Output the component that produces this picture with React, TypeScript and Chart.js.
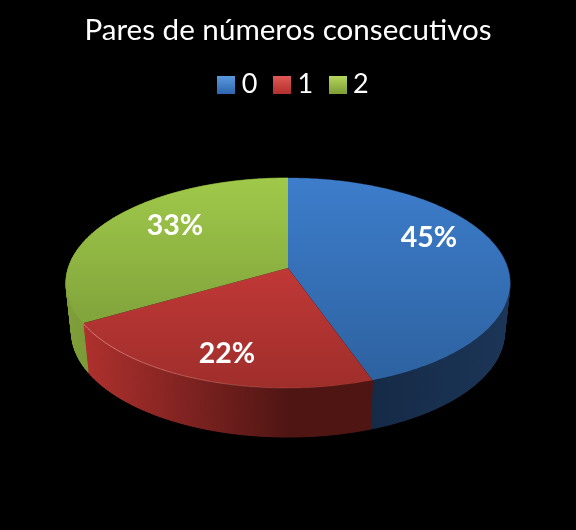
import React, { useEffect, useRef } from 'react';
import { Chart, registerables } from 'chart.js';

Chart.register(...registerables);

const chartTitle = 'Pares de números consecutivos';
const categories = ['0', '1', '2'];
const shares = [44.6, 22.1, 33.3];

// top face gradient [upper, lower] for each slice
const topColors = [
  ['#3d7dcb', '#2d619f'],
  ['#d8403f', '#9f2e2b'],
  ['#a0c94a', '#739335'],
];
// side wall gradient, left to right
const sideColors = [
  ['#11233b', '#1c3658'],
  ['#b0312e', '#4e1513'],
  ['#7f9f3a', '#64802c'],
];
const legendColors = [
  ['#5b9be0', '#2f68b0'],
  ['#e25b58', '#b2302d'],
  ['#b5d85f', '#7f9f35'],
];
const labelSpots = [
  [429, 238],
  [227, 354],
  [175, 226],
];

// pie projection: apex position, radii, perspective and wall depth
const apexX = 288;
const apexY = 268;
const radiusX = 219.7;
const radiusY = 102.9;
const tilt = 1 / 7;
const depth = 49;

const project = (angle: number, lift = 0, shrink = 1) => {
  const x = Math.cos(angle);
  const y = Math.sin(angle);
  const w = 1 - tilt * y;
  return [apexX + (radiusX * shrink * x) / w, apexY + (radiusY * y) / w + lift];
};

const rimPoints = (start: number, end: number, lift = 0, shrink = 1) => {
  const steps = Math.max(2, Math.ceil((end - start) * 60));
  const pts = [];
  for (let i = 0; i <= steps; i++) {
    pts.push(project(start + ((end - start) * i) / steps, lift, shrink));
  }
  return pts;
};

const pie3d = {
  id: 'pie3d',
  afterLayout(chart: Chart) {
    // the legend sits a little right of the title in the original
    const legend: any = chart.legend;
    legend.left += 8.5;
    legend.right += 8.5;
  },
  beforeDatasetsDraw(chart: Chart) {
    const ctx = chart.ctx;
    const arcs: any[] = chart.getDatasetMeta(0).data;

    // side walls first, the top faces paint over the hidden back part
    arcs.forEach((arc, i) => {
      const top = rimPoints(arc.startAngle, arc.endAngle);
      const bottom = rimPoints(arc.startAngle, arc.endAngle, depth, 0.975);
      const xs = top.map((p) => p[0]);
      const grad = ctx.createLinearGradient(Math.min(...xs), 0, Math.max(...xs), 0);
      grad.addColorStop(0, sideColors[i][0]);
      grad.addColorStop(i === 1 ? 0.72 : 1, sideColors[i][1]);
      grad.addColorStop(1, sideColors[i][1]);
      ctx.fillStyle = grad;
      ctx.strokeStyle = grad;
      ctx.lineWidth = 1;
      // wall is built from thin strips so the silhouette stays tangent to the rim
      for (let k = 0; k < top.length - 1; k++) {
        ctx.beginPath();
        ctx.moveTo(top[k][0], top[k][1]);
        ctx.lineTo(top[k + 1][0], top[k + 1][1]);
        ctx.lineTo(bottom[k + 1][0], bottom[k + 1][1]);
        ctx.lineTo(bottom[k][0], bottom[k][1]);
        ctx.closePath();
        ctx.fill();
        ctx.stroke();
      }
    });

    arcs.forEach((arc, i) => {
      const rim = rimPoints(arc.startAngle, arc.endAngle);
      const grad = ctx.createLinearGradient(0, apexY - 90, 0, apexY + 120);
      grad.addColorStop(0, topColors[i][0]);
      grad.addColorStop(1, topColors[i][1]);
      ctx.fillStyle = grad;
      ctx.beginPath();
      ctx.moveTo(apexX, apexY);
      rim.forEach((p) => ctx.lineTo(p[0], p[1]));
      ctx.closePath();
      ctx.fill();
      if (i === 1) {
        // soft light edge on the red front rim, fading to the right
        const edge = ctx.createLinearGradient(rim[rim.length - 1][0], 0, rim[0][0], 0);
        edge.addColorStop(0, 'rgba(255,190,180,0.55)');
        edge.addColorStop(0.7, 'rgba(255,190,180,0.12)');
        edge.addColorStop(1, 'rgba(255,190,180,0)');
        ctx.strokeStyle = edge;
        ctx.lineWidth = 1;
        ctx.beginPath();
        rim.forEach((p, k) => (k ? ctx.lineTo(p[0], p[1]) : ctx.moveTo(p[0], p[1])));
        ctx.stroke();
      }
    });

    ctx.fillStyle = '#ffffff';
    ctx.font = 'bold 28.5px Lato';
    ctx.textAlign = 'center';
    ctx.textBaseline = 'middle';
    shares.forEach((v, i) => {
      ctx.fillText(`${Math.round(v)}%`, labelSpots[i][0], labelSpots[i][1]);
    });
    return false;
  },
};

const legendSwatch = (colors: string[]) => {
  const c = document.createElement('canvas');
  c.width = 18;
  c.height = 18;
  const g = c.getContext('2d')!;
  const grad = g.createLinearGradient(0, 0, 0, 18);
  grad.addColorStop(0, colors[0]);
  grad.addColorStop(1, colors[1]);
  g.fillStyle = grad;
  g.fillRect(0, 0, 18, 18);
  return c;
};

const App: React.FC = () => {
  const chartRef = useRef<HTMLCanvasElement>(null);

  useEffect(() => {
    if (!chartRef.current) return;
    document.body.style.margin = '0';
    document.body.style.background = '#000';

    const swatches = legendColors.map(legendSwatch);
    const chart = new Chart(chartRef.current, {
      type: 'pie',
      data: {
        labels: categories,
        datasets: [{ data: shares, backgroundColor: topColors.map((c) => c[0]), borderWidth: 0 }],
      },
      plugins: [pie3d],
      options: {
        responsive: false,
        animation: false,
        devicePixelRatio: 1,
        layout: { padding: { top: 13, left: 40, right: 40, bottom: 40 } },
        plugins: {
          tooltip: { enabled: false },
          title: {
            display: true,
            text: chartTitle,
            color: '#ffffff',
            font: { family: 'Lato', size: 29.6, weight: 'normal' },
            padding: { top: 0, bottom: 0 },
          },
          legend: {
            display: true,
            position: 'top',
            labels: {
              color: '#ffffff',
              font: { family: 'Lato', size: 27 },
              usePointStyle: true,
              boxWidth: 4,
              boxHeight: 18,
              padding: 22.5,
              generateLabels: () =>
                categories.map((text, i) => ({
                  text,
                  fontColor: '#ffffff',
                  pointStyle: swatches[i],
                  datasetIndex: 0,
                  index: i,
                  lineWidth: 0,
                })),
            },
          },
        },
      },
    });

    return () => chart.destroy();
  }, []);

  return <canvas ref={chartRef} width={576} height={530} style={{ display: 'block', background: '#000' }} />;
};

export default App;
